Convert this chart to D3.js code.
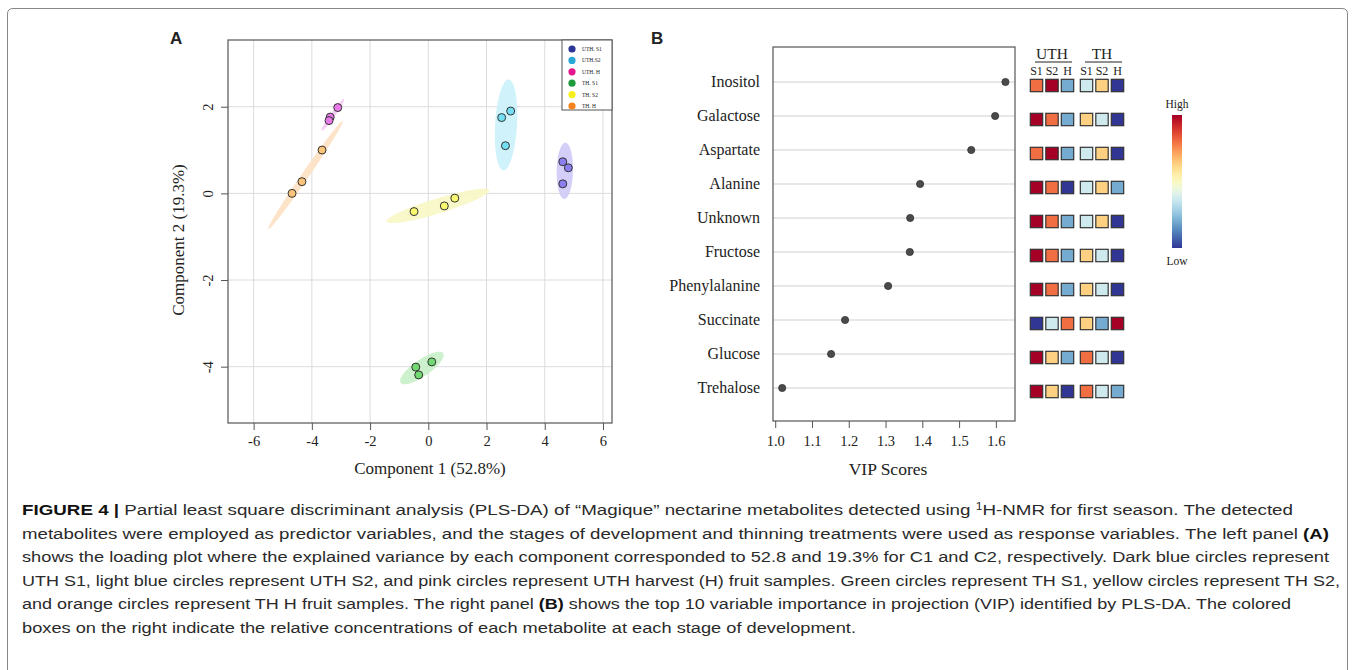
<!DOCTYPE html>
<html>
<head>
<meta charset="utf-8">
<script src="https://d3js.org/d3.v7.min.js"></script>
<style>
  body { margin: 0; background: #fff; }
  svg text { font-family: "Liberation Serif", "DejaVu Serif", serif; fill: #222; }
</style>
</head>
<body>
<div id="chart"></div>
<script>
// ---- data: panel A (PLS-DA scores) ----
var groups = ["UTH. S1", "UTH.S2", "UTH. H", "TH. S1", "TH. S2", "TH. H"];
var legendColors = ["#2b3595", "#29a8d8", "#e3168c", "#1e9a3c", "#f8f01c", "#f7821e"];
var pointColors = ["#8b7ff0", "#74def2", "#e87ae8", "#72d872", "#f9f870", "#fbc47c"];
var ellipseColors = ["#cfcaf8", "#cbf2fb", "#f5c8f4", "#c8eec8", "#f7f7c4", "#fde0c2"];

var scoreGroup = [0, 0, 0, 1, 1, 1, 2, 2, 2, 3, 3, 3, 4, 4, 4, 5, 5, 5];
var scoreC1 = [4.62, 4.81, 4.62, 2.83, 2.52, 2.65, -3.11, -3.37, -3.41, 0.12, -0.43, -0.33, -0.49, 0.55, 0.91, -3.65, -4.34, -4.68];
var scoreC2 = [0.73, 0.59, 0.22, 1.90, 1.75, 1.10, 1.98, 1.76, 1.68, -3.89, -4.01, -4.19, -0.42, -0.29, -0.11, 1.00, 0.27, 0.00];

// confidence ellipses: centre, half major axis (data units), minor/major ratio
var ellCx = [4.69, 2.67, -3.28, -0.22, 0.33, -4.22];
var ellCy = [0.52, 1.58, 1.81, -4.03, -0.29, 0.42];
var ellMx = [0.02, 0.09, 0.385, 0.73, 1.76, 1.28];
var ellMy = [0.65, 1.05, 0.366, 0.34, 0.36, 1.25];
var ellRatio = [0.29, 0.24, 0.12, 0.32, 0.14, 0.055];

var xTicksA = [-6, -4, -2, 0, 2, 4, 6];
var yTicksA = [-4, -2, 0, 2];

// ---- data: panel B (VIP scores + heatmap) ----
var metabolites = ["Inositol", "Galactose", "Aspartate", "Alanine", "Unknown", "Fructose", "Phenylalanine", "Succinate", "Glucose", "Trehalose"];
var vipScores = [1.626, 1.598, 1.533, 1.394, 1.367, 1.366, 1.307, 1.190, 1.152, 1.019];
var xTicksB = [1.0, 1.1, 1.2, 1.3, 1.4, 1.5, 1.6];

var treatments = ["UTH", "TH"];
var stages = ["S1", "S2", "H"];
// relative concentration, 0 = low ... 1 = high ; columns UTH S1,S2,H, TH S1,S2,H
var heatValues = [
  [0.8, 1.0, 0.2, 0.37, 0.63, 0.0],
  [1.0, 0.8, 0.2, 0.63, 0.37, 0.0],
  [0.8, 1.0, 0.2, 0.37, 0.63, 0.0],
  [1.0, 0.8, 0.0, 0.37, 0.63, 0.2],
  [1.0, 0.8, 0.2, 0.37, 0.63, 0.0],
  [1.0, 0.8, 0.2, 0.63, 0.37, 0.0],
  [1.0, 0.8, 0.2, 0.63, 0.37, 0.0],
  [0.0, 0.37, 0.8, 0.63, 0.2, 1.0],
  [1.0, 0.63, 0.2, 0.8, 0.37, 0.0],
  [1.0, 0.63, 0.0, 0.8, 0.37, 0.2]
];

var captionLines = [
  [["b", "FIGURE 4 | "], ["n", "Partial least square discriminant analysis (PLS-DA) of “Magique” nectarine metabolites detected using "], ["s", "1"], ["n", "H-NMR for first season. The detected"]],
  [["n", "metabolites were employed as predictor variables, and the stages of development and thinning treatments were used as response variables. The left panel "], ["b", "(A)"]],
  [["n", "shows the loading plot where the explained variance by each component corresponded to 52.8 and 19.3% for C1 and C2, respectively. Dark blue circles represent"]],
  [["n", "UTH S1, light blue circles represent UTH S2, and pink circles represent UTH harvest (H) fruit samples. Green circles represent TH S1, yellow circles represent TH S2,"]],
  [["n", "and orange circles represent TH H fruit samples. The right panel "], ["b", "(B)"], ["n", " shows the top 10 variable importance in projection (VIP) identified by PLS-DA. The colored"]],
  [["n", "boxes on the right indicate the relative concentrations of each metabolite at each stage of development."]]
];
var captionEnds = [1293, 1329, 1329, 1340, 1291, 856];

var W = 1355, H = 670;
var svg = d3.select("#chart").append("svg").attr("width", W).attr("height", H);

// outer frame
svg.append("path")
  .attr("d", "M7.5," + (H + 5) + " V14 Q7.5,8.5 13,8.5 H1342 Q1347.5,8.5 1347.5,14 V" + (H + 5))
  .attr("fill", "none").attr("stroke", "#888").attr("stroke-width", 1);

// ================= panel A =================
var ax = d3.scaleLinear().domain([-6.88, 6.31]).range([228, 612]);
var ay = d3.scaleLinear().domain([-5.3, 3.54]).range([423, 40]);
var gA = svg.append("g");

// grid
gA.selectAll(".gx").data(xTicksA).enter().append("line")
  .attr("x1", function(d) { return ax(d); }).attr("x2", function(d) { return ax(d); })
  .attr("y1", ay.range()[1]).attr("y2", ay.range()[0])
  .attr("stroke", "#dcdcdc").attr("stroke-width", 1);
gA.selectAll(".gy").data(yTicksA).enter().append("line")
  .attr("y1", function(d) { return ay(d); }).attr("y2", function(d) { return ay(d); })
  .attr("x1", ax.range()[0]).attr("x2", ax.range()[1])
  .attr("stroke", "#dcdcdc").attr("stroke-width", 1);

// ellipses
var lineGen = d3.line().curve(d3.curveLinearClosed);
gA.selectAll(".ell").data(d3.range(groups.length)).enter().append("path")
  .attr("d", function(i) {
    var c = [ax(ellCx[i]), ay(ellCy[i])];
    var e = [ax(ellCx[i] + ellMx[i]), ay(ellCy[i] + ellMy[i])];
    var u = [e[0] - c[0], e[1] - c[1]];
    var v = [-u[1] * ellRatio[i], u[0] * ellRatio[i]];
    var pts = d3.range(72).map(function(k) {
      var t = k / 72 * 2 * Math.PI;
      return [c[0] + u[0] * Math.cos(t) + v[0] * Math.sin(t), c[1] + u[1] * Math.cos(t) + v[1] * Math.sin(t)];
    });
    return lineGen(pts);
  })
  .attr("fill", function(i) { return ellipseColors[i]; })
  .attr("opacity", 0.9);

// points
gA.selectAll(".pt").data(d3.range(scoreC1.length)).enter().append("circle")
  .attr("cx", function(i) { return ax(scoreC1[i]); })
  .attr("cy", function(i) { return ay(scoreC2[i]); })
  .attr("r", 4)
  .attr("fill", function(i) { return pointColors[scoreGroup[i]]; })
  .attr("stroke", "#333").attr("stroke-width", 1);

// box
gA.append("rect")
  .attr("x", 228).attr("y", 40).attr("width", 612 - 228).attr("height", 423 - 40)
  .attr("fill", "none").attr("stroke", "#555").attr("stroke-width", 1.2);

// axes
var axB = gA.append("g").attr("transform", "translate(0,423)")
  .call(d3.axisBottom(ax).tickValues(xTicksA).tickSize(7).tickPadding(6).tickFormat(function(d) { return String(d); }));
axB.select(".domain").remove();
axB.selectAll("line").attr("stroke", "#555");
axB.selectAll("text").attr("font-size", 14.5).attr("fill", "#222");

var axL = gA.append("g").attr("transform", "translate(228,0)")
  .call(d3.axisLeft(ay).tickValues(yTicksA).tickSize(7).tickFormat(function(d) { return String(d); }));
axL.select(".domain").remove();
axL.selectAll("line").attr("stroke", "#555");
axL.selectAll("text")
  .attr("transform", "rotate(-90)")
  .attr("x", 0).attr("y", -15).attr("dy", 0)
  .attr("text-anchor", "middle")
  .attr("font-size", 14.5).attr("fill", "#222");

gA.append("text").attr("x", 430).attr("y", 474).attr("text-anchor", "middle")
  .attr("font-size", 17).text("Component 1 (52.8%)");
gA.append("text").attr("transform", "translate(184,240) rotate(-90)").attr("text-anchor", "middle")
  .attr("font-size", 17).text("Component 2 (19.3%)");

// legend
var leg = gA.append("g");
leg.append("rect").attr("x", 562).attr("y", 40).attr("width", 50).attr("height", 70)
  .attr("fill", "#fff").attr("stroke", "#555").attr("stroke-width", 1);
leg.selectAll(".lc").data(groups).enter().append("circle")
  .attr("cx", 572).attr("cy", function(d, i) { return 49 + i * 11.4; }).attr("r", 3.6)
  .attr("fill", function(d, i) { return legendColors[i]; });
leg.selectAll(".lt").data(groups).enter().append("text")
  .attr("x", 582).attr("y", function(d, i) { return 51 + i * 11.4; })
  .attr("font-size", 5.5).attr("fill", "#444").text(function(d) { return d; });

svg.append("text").attr("x", 170).attr("y", 44)
  .attr("font-weight", "bold").attr("font-size", 17).style("font-family", "Liberation Sans").text("A");

// ================= panel B =================
var bx = d3.scaleLinear().domain([0.994, 1.652]).range([773, 1015]);
var by = d3.scalePoint().domain(metabolites).range([82, 388]);
var gB = svg.append("g");

gB.selectAll(".rl").data(metabolites).enter().append("line")
  .attr("x1", 773).attr("x2", 1015)
  .attr("y1", function(d) { return by(d); }).attr("y2", function(d) { return by(d); })
  .attr("stroke", "#cfcfcf").attr("stroke-width", 1);

gB.selectAll(".dot").data(metabolites).enter().append("circle")
  .attr("cx", function(d, i) { return bx(vipScores[i]); })
  .attr("cy", function(d) { return by(d); })
  .attr("r", 3.6).attr("fill", "#4a4a4a").attr("stroke", "#333").attr("stroke-width", 0.8);

gB.append("rect").attr("x", 773).attr("y", 47).attr("width", 1015 - 773).attr("height", 421 - 47)
  .attr("fill", "none").attr("stroke", "#555").attr("stroke-width", 1.2);

gB.selectAll(".ml").data(metabolites).enter().append("text")
  .attr("x", 760).attr("y", function(d) { return by(d) + 5; })
  .attr("text-anchor", "end").attr("font-size", 16).text(function(d) { return d; });

var bxAxis = gB.append("g").attr("transform", "translate(0,421)")
  .call(d3.axisBottom(bx).tickValues(xTicksB).tickSize(7).tickPadding(8).tickFormat(d3.format(".1f")));
bxAxis.select(".domain").remove();
bxAxis.selectAll("line").attr("stroke", "#555");
bxAxis.selectAll("text").attr("font-size", 14.5).attr("fill", "#222");

gB.append("text").attr("x", 888).attr("y", 475).attr("text-anchor", "middle")
  .attr("font-size", 17.5).text("VIP Scores");

svg.append("text").attr("x", 651).attr("y", 44).attr("font-weight", "bold").attr("font-size", 17)
  .style("font-family", "Liberation Sans").text("B");

// heatmap
var gx = d3.scaleBand().domain(treatments).range([1030, 1124]).paddingInner(0.12);
var sx = d3.scaleBand().domain(stages).range([0, gx.bandwidth()]).paddingInner(0.2).paddingOuter(0.02);
var colour = function(v) { return d3.interpolateRdYlBu(1 - v); };
var cellH = sx.bandwidth();

metabolites.forEach(function(m, r) {
  heatValues[r].forEach(function(v, c) {
    var t = treatments[Math.floor(c / 3)], s = stages[c % 3];
    gB.append("rect")
      .attr("x", gx(t) + sx(s)).attr("y", by(m) + 3.5 - cellH / 2)
      .attr("width", sx.bandwidth()).attr("height", cellH)
      .attr("fill", colour(v)).attr("stroke", "#333").attr("stroke-width", 1.2);
  });
});

treatments.forEach(function(t) {
  gB.append("text").attr("x", gx(t) + gx.bandwidth() / 2).attr("y", 59)
    .attr("text-anchor", "middle").attr("font-size", 15.5).text(t);
  gB.append("line").attr("x1", gx(t) + 5).attr("x2", gx(t) + gx.bandwidth() - 2)
    .attr("y1", 62).attr("y2", 62).attr("stroke", "#222").attr("stroke-width", 1);
  stages.forEach(function(s) {
    gB.append("text").attr("x", gx(t) + sx(s) + sx.bandwidth() / 2).attr("y", 75)
      .attr("text-anchor", "middle").attr("font-size", 12).text(s);
  });
});

// colour bar
var defs = svg.append("defs");
var grad = defs.append("linearGradient").attr("id", "cbar")
  .attr("x1", 0).attr("y1", 0).attr("x2", 0).attr("y2", 1);
d3.range(0, 1.0001, 0.05).forEach(function(t) {
  grad.append("stop").attr("offset", t).attr("stop-color", d3.interpolateRdYlBu(t));
});
svg.append("rect").attr("x", 1172).attr("y", 115).attr("width", 10).attr("height", 133)
  .attr("fill", "url(#cbar)");
svg.append("text").attr("x", 1177).attr("y", 108).attr("text-anchor", "middle").attr("font-size", 11.5).text("High");
svg.append("text").attr("x", 1177).attr("y", 265).attr("text-anchor", "middle").attr("font-size", 11.5).text("Low");

// ================= caption =================
var cap = svg.append("g");
captionLines.forEach(function(parts, i) {
  var t = cap.append("text")
    .attr("x", 22).attr("y", 515 + i * 23.5)
    .attr("textLength", captionEnds[i] - 22).attr("lengthAdjust", "spacingAndGlyphs")
    .style("font-family", "'Liberation Sans Narrow', 'Liberation Sans', sans-serif")
    .attr("font-size", 15.5).style("fill", "#2a2a2a");
  parts.forEach(function(p) {
    var ts = t.append("tspan").text(p[1]);
    if (p[0] === "b") ts.attr("font-weight", "bold").style("fill", "#111");
    if (p[0] === "s") ts.attr("font-size", 10).attr("baseline-shift", "super");
  });
});
</script>
</body>
</html>
